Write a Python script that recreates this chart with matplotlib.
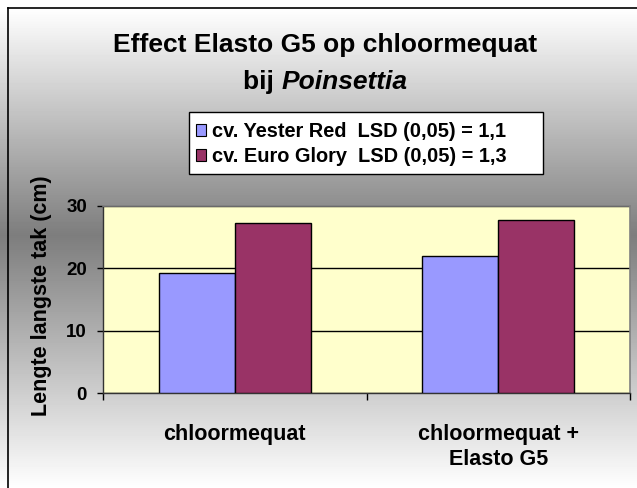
import numpy as np
import matplotlib
matplotlib.use("Agg")
import matplotlib.pyplot as plt
from matplotlib.lines import Line2D
from matplotlib.patches import Patch, Rectangle

categories = ["chloormequat", "chloormequat +\nElasto G5"]
series_names = ["cv. Yester Red  LSD (0,05) = 1,1", "cv. Euro Glory  LSD (0,05) = 1,3"]
yester_red = [19.3, 21.9]
euro_glory = [27.2, 27.7]
yticks = [0, 10, 20, 30]

plt.rcParams['font.family'] = ['Liberation Sans', 'DejaVu Sans']
plt.rcParams['font.weight'] = 'bold'

W, H = 637, 488
fig = plt.figure(figsize=(W / 100, H / 100), dpi=100)

# background gradient (white - gray - white)
bg = fig.add_axes([0, 0, 1, 1], zorder=-10)
rows = np.arange(H)
center = 235.0
g = np.where(rows < center,
             255 - (rows - 8) / (center - 8) * 130,
             125 + (rows - center) / (H - center) * 130)
g = np.clip(g, 0, 255) / 255.0
img = np.repeat(g[:, None], 2, axis=1)
bg.imshow(img, cmap='gray', vmin=0, vmax=1, aspect='auto', extent=[0, 1, 0, 1], origin='upper')
bg.set_axis_off()

# frame lines (left and top)
fig.add_artist(Line2D([7.5 / W, 7.5 / W], [0, 1 - 8 / H], color='black', lw=1.2, transform=fig.transFigure))
fig.add_artist(Line2D([7.5 / W, 1], [1 - 8 / H, 1 - 8 / H], color='black', lw=1.2, transform=fig.transFigure))

left, right, top, bottom = 103, 630, 206, 393
ax = fig.add_axes([left / W, 1 - bottom / H, (right - left) / W, (bottom - top) / H])
ax.set_facecolor('#FFFFCC')

x = np.arange(len(categories))
bw = 0.288
ax.bar(x - bw / 2, yester_red, bw, color='#9999FF', edgecolor='black', linewidth=1, zorder=3, label=series_names[0])
ax.bar(x + bw / 2, euro_glory, bw, color='#993366', edgecolor='black', linewidth=1, zorder=3, label=series_names[1])

ax.set_xlim(-0.5, 1.5)
ax.set_ylim(0, 30)
ax.set_yticks(yticks)
ax.yaxis.grid(True, color='black', linewidth=1, zorder=1)
ax.set_axisbelow(True)

ax.set_xticks([-0.5, 0.5, 1.5])
ax.set_xticklabels([])
ax.set_xticks(x, minor=True)
ax.set_xticklabels(categories, minor=True, fontsize=15.5, fontweight='bold', linespacing=1.25)
ax.tick_params(axis='x', which='minor', length=0, pad=22)
ax.tick_params(axis='x', which='major', length=5, width=1, direction='out')
ax.tick_params(axis='y', length=4.5, width=1, direction='out', pad=7, labelsize=13.5)
for t in ax.get_yticklabels():
    t.set_fontweight('bold')

for s in ['top', 'right']:
    ax.spines[s].set_color('#808080')
    ax.spines[s].set_linewidth(1.2)
for s in ['left', 'bottom']:
    ax.spines[s].set_color('#333333')
    ax.spines[s].set_linewidth(1)

# y label
fig.text(42 / W, 1 - 296 / H, "Lengte langste tak (cm)", rotation=90, ha='center', va='center',
         fontsize=15.5, fontweight='bold')

# title
fig.text(325 / W, 1 - 45 / H, "Effect Elasto G5 op chloormequat", ha='center', va='center',
         fontsize=19, fontweight='bold')
fig.canvas.draw()
r = fig.canvas.get_renderer()
t1 = fig.text(0, 1 - 82 / H, "bij ", ha='left', va='center', fontsize=19, fontweight='bold')
t2 = fig.text(0, 1 - 82 / H, "Poinsettia", ha='left', va='center', fontsize=19, fontweight='bold', style='italic')
w1 = t1.get_window_extent(r).width
w2 = t2.get_window_extent(r).width
start = 325 - (w1 + w2) / 2
t1.set_x(start / W)
t2.set_x((start + w1) / W)

# legend box
fig.add_artist(Rectangle((188.5 / W, 1 - 174 / H), (543 - 188.5) / W, (174 - 112) / H,
                         transform=fig.transFigure, facecolor='white', edgecolor='black',
                         linewidth=1, zorder=2))
handles = [Patch(facecolor='#9999FF', edgecolor='black', linewidth=0.8),
           Patch(facecolor='#993366', edgecolor='black', linewidth=0.8)]
leg = fig.legend(handles, series_names, loc='center left', bbox_to_anchor=(196 / W, 1 - 144 / H),
                 bbox_transform=fig.transFigure, borderaxespad=0, frameon=False,
                 prop={'weight': 'bold', 'size': 14.4},
                 handlelength=0.52, handleheight=0.52, handletextpad=0.3, borderpad=0,
                 labelspacing=0.3)
leg.set_zorder(3)

fig.savefig('out.png', dpi=100)
